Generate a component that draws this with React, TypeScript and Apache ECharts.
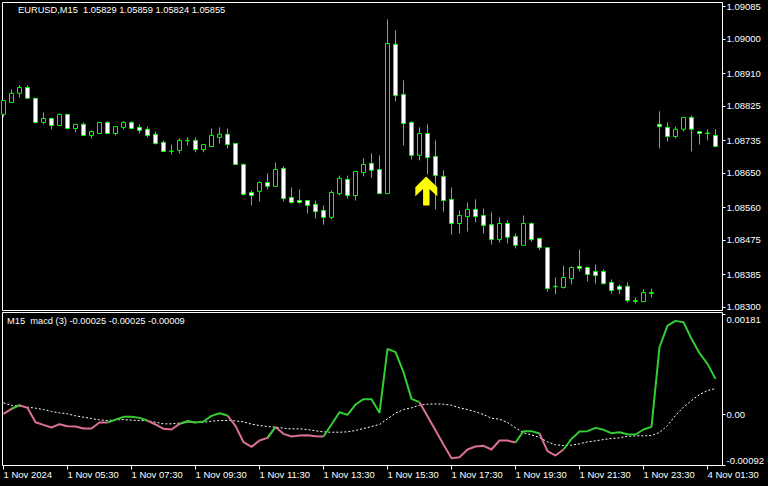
import React, { useEffect, useRef } from "react";
import * as echarts from "echarts";

// Prices in units of 0.00001
const opens = [108803,108834,108858,108873,108845,108782,108792,108774,108803,108766,108777,108748,108753,108782,108753,108769,108782,108769,108764,108751,108730,108706,108709,108734,108735,108711,108719,108743,108751,108727,108672,108599,108602,108625,108615,108662,108586,108578,108578,108568,108552,108534,108596,108633,108591,108651,108675,108659,108596,108986,108855,108782,108696,108753,108693,108641,108581,108518,108536,108555,108539,108515,108476,108518,108484,108461,108518,108479,108455,108353,108351,108374,108406,108403,108393,108393,108364,108354,108354,108314,108314,108335,108777,108769,108745,108764,108795,108758,108754,108748];
const closes = [108839,108858,108873,108845,108782,108792,108774,108803,108766,108777,108748,108758,108782,108753,108771,108782,108766,108761,108748,108727,108706,108707,108735,108735,108711,108724,108748,108751,108724,108672,108594,108591,108625,108615,108659,108583,108573,108573,108565,108549,108534,108599,108636,108591,108654,108672,108657,108596,108988,108852,108779,108696,108753,108690,108643,108578,108518,108539,108555,108536,108513,108476,108518,108482,108461,108518,108476,108455,108348,108354,108377,108403,108401,108385,108382,108361,108343,108346,108317,108317,108338,108338,108771,108745,108764,108795,108764,108753,108753,108719];
const highs = [108839,108868,108879,108879,108845,108808,108795,108805,108803,108777,108782,108761,108782,108785,108771,108785,108785,108777,108771,108758,108735,108724,108740,108743,108743,108724,108766,108769,108766,108727,108675,108604,108628,108649,108677,108667,108612,108607,108578,108578,108565,108604,108643,108643,108654,108688,108701,108696,109051,109022,108892,108785,108769,108777,108735,108657,108612,108552,108573,108581,108557,108547,108534,108526,108492,108539,108521,108479,108455,108377,108408,108406,108450,108406,108411,108398,108372,108359,108364,108325,108346,108348,108811,108782,108771,108795,108800,108758,108764,108764];
const lows = [108795,108834,108847,108845,108779,108777,108764,108774,108764,108756,108748,108740,108753,108753,108748,108764,108764,108753,108743,108724,108706,108698,108701,108722,108704,108704,108719,108727,108714,108672,108591,108565,108576,108607,108615,108576,108570,108570,108544,108531,108515,108529,108591,108583,108578,108641,108638,108596,108596,108837,108722,108685,108683,108646,108555,108549,108489,108492,108497,108521,108492,108463,108468,108466,108453,108461,108471,108448,108340,108333,108348,108359,108393,108367,108361,108359,108335,108335,108312,108309,108314,108325,108714,108732,108740,108758,108706,108724,108735,108717];

// MACD values in units of 0.00001
const macdLine = [0.8,9.9,16.5,11.7,-14.3,-19.2,-24,-17.9,-21.6,-22.2,-25.8,-25.8,-14.9,-14.9,-9.6,-4.6,-4.6,-6.5,-11.3,-18.5,-26.4,-27.6,-17.3,-12.5,-14.9,-13.1,-2.8,2,-2.2,-21,-50.6,-59.1,-47.6,-42.7,-23,-35.5,-40.3,-38.5,-37.9,-39.7,-40.3,-18.5,3.8,-1,17.7,27.4,27.4,2.6,118.7,112.7,76.4,28,22,-3.4,-28.8,-54.8,-79.6,-77.8,-63.9,-58.5,-57.2,-63.9,-47.6,-47.6,-51.2,-30.6,-30.6,-34.9,-66.9,-74.8,-63.9,-44.6,-31.2,-30.6,-24.6,-28.2,-34.3,-32.5,-36.1,-36.7,-27.6,-22.8,121.7,161,169.5,167.1,136.9,110.9,91.5,64.3];
const signalLine = [20.8,15.9,15.3,12.9,11.1,8.7,5,2.6,0.8,-2.8,-5.2,-7.7,-10.1,-11.3,-10.1,-9.5,-10.7,-11.3,-11.9,-14.3,-17.3,-17.3,-16.1,-14.9,-14.3,-14.3,-12.5,-11.3,-11.3,-11.9,-13.7,-17.9,-20.4,-22.2,-23.4,-25.2,-26.4,-26.4,-27.6,-30,-31.9,-32.5,-32.5,-31.9,-29.4,-25.8,-22.2,-18.5,-8.3,2,8.7,11.7,16.5,18.3,18.9,18.3,16.5,11.7,8.7,4.4,-0.4,-7.1,-8.9,-14.9,-24.6,-33.7,-37.3,-42.1,-50,-55.4,-56.6,-56,-53.6,-50,-48.2,-45.8,-43.9,-42.7,-39.7,-39.1,-39.1,-38.5,-33.1,-20.4,-2.2,12.9,25,35.9,43.1,46.8];

const priceTicks = [1.083,1.08385,1.08475,1.0856,1.0865,1.08735,1.08825,1.0891,1.09,1.09085];
const macdTicks = [-0.00092,0,0.00181];
const timeTickIndex = [0,8,16,24,32,40,48,56,64,72,80,88];
const timeTickLabels = ["1 Nov 2024","1 Nov 05:30","1 Nov 07:30","1 Nov 09:30","1 Nov 11:30","1 Nov 13:30","1 Nov 15:30","1 Nov 17:30","1 Nov 19:30","1 Nov 21:30","1 Nov 23:30","4 Nov 01:30"];

const priceTitle = "EURUSD,M15  1.05829 1.05859 1.05824 1.05855";
const macdTitle = "M15  macd (3) -0.00025 -0.00025 -0.00009";

const arrowPoint = [52.85, 1.08603];

const FONT = "Liberation Sans";
const TXT = "#ffffff";

export default function App() {
  const ref = useRef<HTMLDivElement>(null);
  useEffect(() => {
    const chart = echarts.init(ref.current!, undefined, { renderer: "svg" });
    const candles = opens.map((o, i) => [i, o / 1e5, closes[i] / 1e5, lows[i] / 1e5, highs[i] / 1e5]);
    const up = macdLine.map((m, i) => m > signalLine[i]);
    const macdVal = (i: number) => [i, macdLine[i] / 1e5];
    const green = macdLine.map((_, i) => (up[i] || up[i + 1] ? macdVal(i) : [i, null]));
    const pink = macdLine.map((_, i) => (!up[i] || (i + 1 < up.length && !up[i + 1]) ? macdVal(i) : [i, null]));
    const signal = signalLine.map((s, i) => [i, s / 1e5]);
    const xBase = { type: "value", min: -0.125, max: 89.875, splitLine: { show: false }, axisLine: { show: false, onZero: false } };
    const yBase = {
      type: "value",
      position: "right",
      scale: true,
      splitLine: { show: false },
      axisLine: { show: false, onZero: false },
      axisTick: { show: true, length: 3, lineStyle: { color: TXT, width: 1 } },
    };
    const labelStyle = { color: TXT, fontFamily: FONT, fontSize: 9.5 };
    const titleStyle = { color: TXT, fontFamily: FONT, fontSize: 9.3, fontWeight: "normal" };
    chart.setOption({
      animation: false,
      backgroundColor: "#000000",
      title: [
        { text: priceTitle, left: 18, top: 5, padding: 0, textStyle: titleStyle },
        { text: macdTitle, left: 7, top: 316, padding: 0, textStyle: titleStyle },
      ],
      grid: [
        { left: 2.5, top: 2.5, width: 720, height: 308, show: true, borderColor: TXT, borderWidth: 1, backgroundColor: "transparent" },
        { left: 2.5, top: 312.5, width: 720, height: 153, show: true, borderColor: TXT, borderWidth: 1, backgroundColor: "transparent" },
      ],
      xAxis: [
        { ...xBase, gridIndex: 0, axisTick: { show: false }, axisLabel: { show: false } },
        {
          ...xBase,
          gridIndex: 1,
          axisTick: { show: true, length: 4, customValues: timeTickIndex, lineStyle: { color: TXT } },
          axisLabel: {
            ...labelStyle,
            show: true,
            align: "left",
            margin: 4,
            hideOverlap: false,
            showMinLabel: true,
            showMaxLabel: true,
            customValues: timeTickIndex,
            formatter: (v: number) => timeTickLabels[timeTickIndex.indexOf(v)] ?? "",
          },
        },
      ],
      yAxis: [
        {
          ...yBase,
          gridIndex: 0,
          min: 1.08290857,
          max: 1.09095,
          axisTick: { ...yBase.axisTick, customValues: priceTicks },
          axisLabel: { ...labelStyle, margin: 4, customValues: priceTicks, formatter: (v: number) => v.toFixed(5) },
        },
        {
          ...yBase,
          gridIndex: 1,
          min: -0.000929,
          max: 0.001847,
          axisTick: { ...yBase.axisTick, customValues: macdTicks },
          axisLabel: {
            ...labelStyle,
            margin: 4,
            customValues: macdTicks,
            verticalAlignMinLabel: "bottom",
            verticalAlignMaxLabel: "top",
            formatter: (v: number) => (v === 0 ? "0.00" : v.toFixed(5)),
          },
        },
      ],
      series: [
        {
          type: "candlestick",
          xAxisIndex: 0,
          yAxisIndex: 0,
          barWidth: 4,
          encode: { x: 0, y: [1, 2, 3, 4] },
          data: candles,
          itemStyle: { color: "#000000", color0: "#ffffff", borderColor: "#00ff00", borderColor0: "#00ff00", borderWidth: 1 },
          markPoint: {
            symbol: "path://M587 528 L620 560 L620 587 L597 565 L597 614 L578 614 L578 565 L555 587 L555 560 Z",
            symbolSize: [22, 29],
            label: { show: false },
            itemStyle: { color: "#ffff00" },
            data: [{ coord: arrowPoint }],
          },
        },
        { type: "line", xAxisIndex: 1, yAxisIndex: 1, data: signal, showSymbol: false, symbol: "none", lineStyle: { color: "#ffffff", width: 1, type: [2, 2] } },
        { type: "line", xAxisIndex: 1, yAxisIndex: 1, data: pink, showSymbol: false, symbol: "none", connectNulls: false, lineStyle: { color: "#db7093", width: 2 } },
        { type: "line", xAxisIndex: 1, yAxisIndex: 1, data: green, showSymbol: false, symbol: "none", connectNulls: false, lineStyle: { color: "#32cd32", width: 2 } },
      ],
    });
    return () => chart.dispose();
  }, []);
  return <div ref={ref} style={{ position: "absolute", left: 0, top: 0, width: 768, height: 486 }} />;
}
